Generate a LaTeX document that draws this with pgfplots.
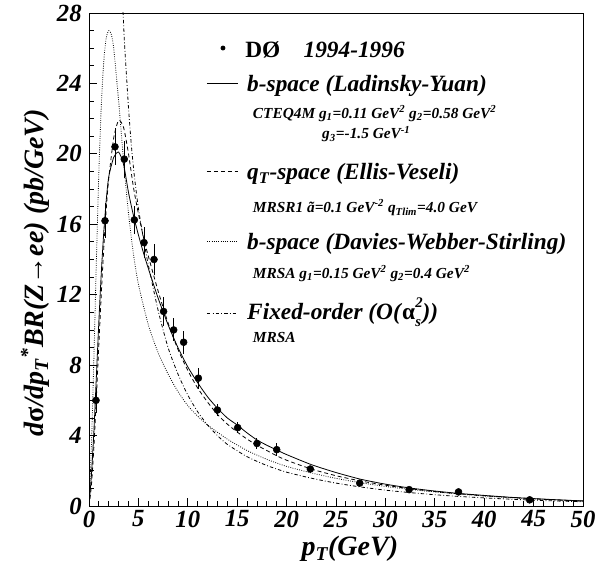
\documentclass[border=0pt]{standalone}
\usepackage{pgfplots}
\usepackage{pgfplotstable}
\pgfplotsset{compat=1.18}
\usepackage{fontspec}
\setmainfont{Liberation Serif}

\pgfplotstableread{
x y ey
0.71 6.0 0.7
1.62 16.2 1.0
2.63 20.4 1.05
3.57 19.7 1.05
4.59 16.25 0.8
5.57 14.96 0.9
6.58 14.0 0.9
7.55 11.05 0.8
8.57 10.0 0.65
9.58 9.3 0.65
11.07 7.26 0.6
13.0 5.45 0.35
15.05 4.45 0.3
17.0 3.55 0.3
19.0 3.2 0.35
22.4 2.1 0.15
27.4 1.3 0.15
32.4 0.93 0.1
37.4 0.8 0.12
44.6 0.35 0.08
}\datatab

\pgfplotstableread{
x y
0 0
0.25 1.8
0.5 4.3
0.75 7.4
1.0 10.5
1.25 13.3
1.5 15.6
1.75 17.4
2.0 18.7
2.5 19.8
3.0 20.1
3.5 19.4
4.0 17.8
4.5 16.5
5.0 15.4
5.5 14.4
6.0 13.5
7.0 11.8
8.0 10.3
9.0 9.0
10.0 7.9
11.0 7.0
12.0 6.2
13.0 5.55
14.0 5.0
15.0 4.6
16.0 4.15
17.0 3.75
18.0 3.45
19.0 3.18
20.0 2.92
22.5 2.35
25.0 1.9
27.5 1.52
30.0 1.24
32.5 1.02
35.0 0.85
37.5 0.71
40.0 0.6
42.5 0.5
45.0 0.42
47.5 0.35
50.0 0.29
}\lytab

\pgfplotstableread{
x y
0 0
0.25 1.2
0.5 3.4
0.75 6.2
1.0 9.2
1.25 12.1
1.5 14.7
1.75 16.9
2.0 18.6
2.5 20.9
3.0 21.9
3.5 21.5
4.0 20.0
4.5 18.1
5.0 16.6
5.5 15.3
6.0 14.2
7.0 12.2
8.0 10.4
9.0 8.9
10.0 7.7
11.0 6.7
12.0 5.9
13.0 5.2
14.0 4.65
15.0 4.2
16.0 3.8
17.0 3.45
18.0 3.15
19.0 2.85
20.0 2.6
22.5 2.1
25.0 1.72
27.5 1.42
30.0 1.18
32.5 0.98
35.0 0.82
37.5 0.69
40.0 0.58
42.5 0.49
45.0 0.41
47.5 0.34
50.0 0.28
}\evtab

\pgfplotstableread{
x y
0 0
0.25 3.5
0.5 8.5
0.75 14.0
1.0 19.0
1.25 22.8
1.5 25.3
1.75 26.6
2.0 27.0
2.25 26.8
2.5 26.0
3.0 23.0
3.5 19.6
4.0 16.6
4.5 14.3
5.0 12.6
6.0 10.3
7.0 8.7
8.0 7.5
9.0 6.5
10.0 5.7
11.0 5.1
12.0 4.6
14.0 3.8
16.0 3.15
18.0 2.65
20.0 2.25
22.5 1.88
25.0 1.57
27.5 1.32
30.0 1.11
32.5 0.94
35.0 0.8
37.5 0.68
40.0 0.57
42.5 0.48
45.0 0.4
47.5 0.34
50.0 0.28
}\dwstab

\pgfplotstableread{
x y
3.2 31
3.45 28
3.6 26.2
3.8 24.4
4.0 22.6
4.3 20.4
4.6 18.7
5.0 16.9
5.6 14.9
6.0 13.7
7.0 11.1
8.0 9.0
9.0 7.5
10.0 6.3
11.0 5.35
12.0 4.6
13.0 4.0
14.0 3.5
16.0 2.8
18.0 2.3
20.0 1.92
22.5 1.58
25.0 1.3
27.5 1.08
30.0 0.9
32.5 0.76
35.0 0.64
37.5 0.54
40.0 0.46
42.5 0.39
45.0 0.33
47.5 0.28
50.0 0.24
}\fotab

\newcommand{\lgfont}{\fontsize{17.5}{17.5}\selectfont\bfseries\itshape}
\newcommand{\smfont}{\fontsize{11.5}{11.5}\selectfont\bfseries\itshape}
\tikzset{
  lydash/.style={solid},
  evdash/.style={dash pattern=on 3pt off 2.2pt},
  dwsdash/.style={dash pattern=on 0.6pt off 1.1pt},
  fodash/.style={dash pattern=on 2.6pt off 1.6pt on 0.6pt off 1.6pt},
}

\begin{document}
\begin{tikzpicture}
\begin{axis}[
  at={(66.75pt,48pt)}, anchor=south west,
  scale only axis, width=370.5pt, height=369.75pt,
  xmin=0, xmax=50, ymin=0, ymax=28,
  xtick={0,5,...,50}, ytick={0,4,...,28},
  minor x tick num=4, minor y tick num=3,
  tick align=inside, xtick pos=bottom, ytick pos=left,
  major tick length=6pt, minor tick length=3.5pt,
  tick style={black, line width=0.6pt},
  axis line style={line width=0.6pt},
  ticklabel style={font=\fontsize{18.5}{18.5}\selectfont\bfseries\itshape},
  yticklabel style={xshift=-2pt},
  /pgf/number format/assume math mode=true,
  xlabel={p\textsubscript{T}(GeV)},
  ylabel={d\textup{σ}/dp\textsubscript{T}\textsuperscript{*}BR(Z\textup{→}ee) (pb/GeV)},
  xlabel style={font=\fontsize{21}{21}\selectfont\bfseries\itshape, at={(axis description cs:0.528,0)}, anchor=base, yshift=-37.5pt},
  ylabel style={font=\fontsize{21}{21}\selectfont\bfseries\itshape, at={(axis description cs:-0.0911,0.473)}, anchor=base, rotate=0},
]
\addplot[black, line width=0.6pt, lydash, smooth, tension=0.4] table {\lytab};
\addplot[black, line width=0.6pt, evdash, smooth, tension=0.4] table {\evtab};
\addplot[black, line width=0.6pt, dwsdash, smooth, tension=0.4] table {\dwstab};
\addplot[black, line width=0.6pt, fodash, smooth, tension=0.4] table {\fotab};
\addplot[black, only marks, mark=*, mark size=2.6pt,
  error bars/.cd, y dir=both, y explicit, error mark=none,
  error bar style={line width=0.7pt, solid}]
  table[x=x, y=y, y error=ey] {\datatab};

% legend samples
\addplot[black, only marks, mark=*, mark size=1.6pt, forget plot] coordinates {(13.56,26.01)};
\addplot[black, line width=0.6pt, lydash, forget plot] coordinates {(11.94,24.02) (15.08,24.02)};
\addplot[black, line width=0.6pt, evdash, forget plot] coordinates {(11.94,18.99) (15.08,18.99)};
\addplot[black, line width=0.6pt, dwsdash, forget plot] coordinates {(11.94,15.02) (15.08,15.02)};
\addplot[black, line width=0.6pt, fodash, forget plot] coordinates {(11.94,10.95) (15.08,10.95)};

\node[anchor=base west, font=\lgfont, inner sep=0pt] at (axis cs:15.79,25.49) {\textup{DØ}\hspace{1em}1994-1996};
\node[anchor=base west, font=\lgfont, inner sep=0pt] at (axis cs:15.99,23.54) {b-space (Ladinsky-Yuan)};
\node[anchor=base west, font=\smfont, inner sep=0pt] at (axis cs:16.57,22.03) {CTEQ4M g\textsubscript{1}=0.11 GeV\textsuperscript{2} g\textsubscript{2}=0.58 GeV\textsuperscript{2}};
\node[anchor=base west, font=\smfont, inner sep=0pt] at (axis cs:23.58,20.85) {g\textsubscript{3}=-1.5 GeV\textsuperscript{-1}};
\node[anchor=base west, font=\lgfont, inner sep=0pt] at (axis cs:15.99,18.52) {q\textsubscript{T}-space (Ellis-Veseli)};
\node[anchor=base west, font=\smfont, inner sep=0pt] at (axis cs:16.57,16.66) {MRSR1 ã=0.1 GeV\textsuperscript{-2} q\textsubscript{Tlim}=4.0 GeV};
\node[anchor=base west, font=\lgfont, inner sep=0pt] at (axis cs:15.99,14.55) {b-space (Davies-Webber-Stirling)};
\node[anchor=base west, font=\smfont, inner sep=0pt] at (axis cs:16.57,12.94) {MRSA g\textsubscript{1}=0.15 GeV\textsuperscript{2} g\textsubscript{2}=0.4 GeV\textsuperscript{2}};
\node[anchor=base west, font=\lgfont, inner sep=0pt] at (axis cs:15.99,10.57) {Fixed-order (O(\textup{α}\raisebox{-0.3em}{\makebox[0pt][l]{\fontsize{11}{11}\selectfont s}}\raisebox{0.55em}{\fontsize{11}{11}\selectfont 2}))};
\node[anchor=base west, font=\smfont, inner sep=0pt] at (axis cs:16.57,9.28) {MRSA};
\end{axis}
\pgfresetboundingbox
\path (0,0) rectangle (458.25pt,427.5pt);
\end{tikzpicture}
\end{document}
